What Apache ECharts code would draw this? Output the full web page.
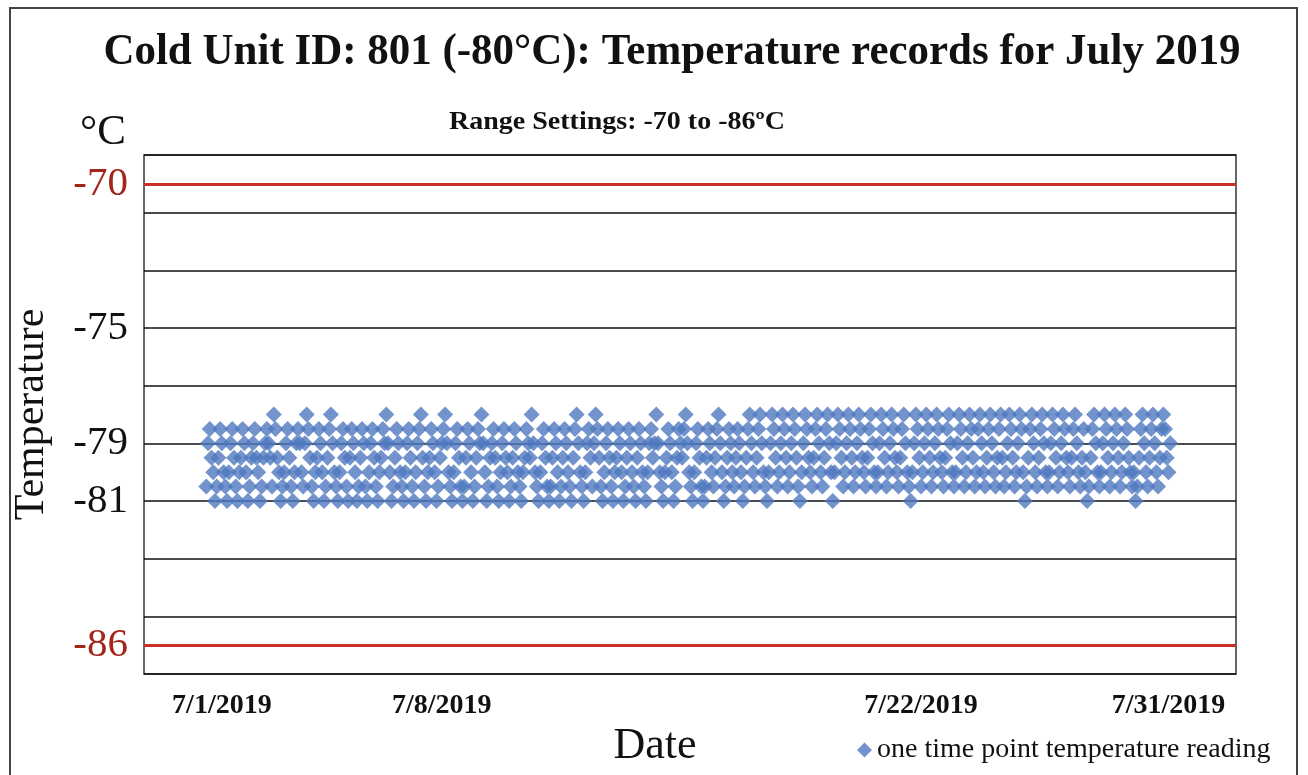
<!DOCTYPE html>
<html>
<head>
<meta charset="utf-8">
<title>Cold Unit 801 temperature records</title>
<script src="https://cdn.jsdelivr.net/npm/echarts@6/dist/echarts.min.js"></script>
<style>
  html, body { margin: 0; padding: 0; background: #fff; }
  #chart { width: 1308px; height: 775px; }
</style>
</head>
<body>
<div id="chart"></div>
<script>
// readings in order of recording, degrees C (0.5 steps)
var readingsA = [
  -80.5, -79, -78.5, -79.5, -80, -81, -80.5, -79.5, -78.5, -79, -80, -80.5, -81, -80,
  -79, -78.5, -79.5, -80.5, -81, -80, -79.5, -78.5, -79, -80, -81, -80.5, -79.5, -79,
  -78.5, -79.5, -80, -81, -80.5, -79.5, -79, -78.5, -79, -79.5, -80.5, -78, -78.5, -79.5,
  -80, -81, -80.5, -80, -79, -78.5, -79.5, -80.5, -81, -80, -79, -78.5, -79, -80,
  -80.5, -79, -78, -78.5, -79.5, -80.5, -81, -80, -79.5, -78.5, -79, -80, -81, -80.5,
  -79.5, -78.5, -78, -79, -80, -80.5, -81, -80, -79, -78.5, -79.5, -80.5, -81, -79.5,
  -78.5, -79, -80, -81, -80.5, -79.5, -78.5, -79, -80.5, -81, -80, -79, -78.5, -79.5,
  -80.5, -81, -80, -79.5, -78.5, -79, -78, -79, -80, -81, -80.5, -79.5, -78.5, -79,
  -80, -80.5, -81, -80, -79, -78.5, -79.5, -80.5, -81, -80, -79, -78.5, -78, -79.5
];
var readingsB = [
  -80.5, -81, -80, -79.5, -78.5, -79, -80, -81, -80.5, -79.5, -79, -78.5, -78, -79,
  -80, -80.5, -81, -80, -79, -78.5, -79.5, -80.5, -81, -80.5, -79.5, -78.5, -79, -80,
  -81, -80.5, -79.5, -78.5, -79, -78, -79, -80, -81, -80.5, -79.5, -79, -78.5, -79.5,
  -80.5, -81, -80, -79, -78.5, -79.5, -80, -81, -80.5, -79.5, -78.5, -79, -80, -80.5,
  -81, -80, -79.5, -78.5, -79, -79.5, -78, -79, -80, -80.5, -81, -80, -79, -78.5,
  -79.5, -80.5, -81, -80.5, -79.5, -78.5, -79, -80, -81, -80.5, -79.5, -78.5, -79, -80,
  -80.5, -81, -79.5, -78.5, -78, -79, -80, -80.5, -81, -80, -79, -78.5, -79.5, -80.5,
  -79, -78, -78.5, -79.5, -80.5, -81, -80, -79, -78.5, -79.5, -80.5, -81, -80, -79.5,
  -78.5, -79, -80, -81, -80.5, -79.5, -78.5, -79, -80, -80.5, -81, -79.5, -78.5, -79
];
var readingsC = [
  -80, -80.5, -81, -80, -79, -78.5, -79.5, -79, -78, -79, -80, -80.5, -81, -80,
  -79.5, -78.5, -79, -80, -81, -80.5, -79.5, -78.5, -79, -79.5, -78.5, -78, -79, -80,
  -80.5, -81, -80, -79, -78.5, -79.5, -80.5, -81, -80.5, -79.5, -78.5, -79, -80, -80.5,
  -79.5, -78.5, -78, -79, -80, -81, -80.5, -79.5, -78.5, -79, -80, -80.5, -79.5, -78.5,
  -79, -80, -81, -80.5, -79.5, -78.5, -78, -79, -80, -80.5, -79.5, -78.5, -78, -79,
  -80, -80.5, -81, -80, -79, -78, -78.5, -79.5, -80.5, -80, -79, -78, -78.5, -79.5,
  -80.5, -80, -79, -78, -78.5, -79.5, -80.5, -81, -80, -79, -78, -78.5, -79.5, -80,
  -80.5, -79.5, -78.5, -78, -79, -80, -80.5, -79.5, -78.5, -78, -79, -80, -81, -80,
  -79, -78, -78.5, -79.5, -80.5, -80, -79, -78, -78.5, -79.5, -80.5, -80, -79, -78
];
var readingsD = [
  -78.5, -79.5, -80, -80.5, -79.5, -78.5, -78, -79, -80, -80.5, -80, -79,
  -78, -78.5, -79.5, -80.5, -80, -79, -78, -78.5, -79.5, -80, -80.5, -79.5,
  -78.5, -78, -79, -80, -80.5, -81, -80, -79, -78, -78.5, -79.5, -80.5,
  -80, -79, -78, -78.5, -79.5, -80.5, -80, -79, -78, -78.5, -79.5, -80,
  -80.5, -79.5, -78.5, -78, -79, -80, -80.5, -80, -79, -78, -78.5, -79.5,
  -80.5, -80, -79, -78, -78.5, -79.5, -80.5, -80, -78.5, -78, -79, -80,
  -80.5, -79.5, -78.5, -78, -79, -80, -80.5, -79.5, -78.5, -78, -79.5, -80.5,
  -80, -79, -78, -78.5, -79.5, -80.5, -80, -79, -78, -78.5, -80, -81,
  -80.5, -79.5, -78.5, -78, -79, -80, -80.5, -79.5, -78.5, -78, -79, -80
];
var readingsE = [
  -80.5, -80, -79, -78, -78.5, -79.5, -80.5, -80, -79, -78, -78.5, -79.5,
  -80, -80.5, -79.5, -78.5, -78, -79, -80, -80.5, -79.5, -78.5, -80, -81,
  -80.5, -79.5, -78.5, -78, -79, -80, -80.5, -80, -79, -78, -78.5, -79.5,
  -80.5, -80, -79, -78, -78.5, -79.5, -80.5, -80, -79, -78, -78.5, -79.5,
  -80, -80.5, -80, -81, -80.5, -79.5, -78.5, -78, -79, -80, -80.5, -79.5,
  -78.5, -78, -79, -80, -80.5, -79.5, -78.5, -78, -78.5, -79.5, -80, -79
];

var dateTickIndex = [9, 136, 413, 556];
var dateTickLabels = ['7/1/2019', '7/8/2019', '7/22/2019', '7/31/2019'];
var tempTickValues = [-70, -75, -79, -81, -86];
var rangeLimits = [-70, -86];

var readings = readingsA.concat(readingsB, readingsC, readingsD, readingsE);
var points = readings.map(function (v, i) { return [i, v]; });

var serif = '"Liberation Serif", "DejaVu Serif", serif';
var chart = echarts.init(document.getElementById('chart'));

var option = {
  backgroundColor: '#fff',
  animation: false,
  graphic: [{
    type: 'rect', silent: true,
    shape: { x: 10, y: 8, width: 1287, height: 790 },
    style: { fill: null, stroke: '#444', lineWidth: 2 }
  }, {
    // main title
    type: 'text', x: 672, y: 52, scaleX: 0.955,
    style: {
      text: 'Cold Unit ID: 801 (-80\u00b0C): Temperature records for July 2019',
      font: 'bold 45px ' + serif, fill: '#111',
      align: 'center', verticalAlign: 'middle'
    }
  }, {
    type: 'text', x: 617, y: 123, scaleX: 1.12,
    style: {
      text: 'Range Settings: -70 to -86\u00baC',
      font: 'bold 25px ' + serif, fill: '#111',
      align: 'center', verticalAlign: 'middle'
    }
  }, {
    type: 'text', x: 80, y: 133,
    style: {
      text: '\u00b0C', font: '43px ' + serif, fill: '#111',
      align: 'left', verticalAlign: 'middle'
    }
  }],
  legend: {
    left: 852, top: 731,
    itemWidth: 15, itemHeight: 15, itemGap: 4,
    icon: 'diamond',
    textStyle: { fontFamily: serif, fontSize: 28, color: '#111' },
    data: ['one time point temperature reading']
  },
  grid: {
    left: 144, right: 72, top: 155, bottom: 101,
    show: true, borderColor: '#333', borderWidth: 1.5, backgroundColor: '#fff'
  },
  xAxis: {
    type: 'value', min: -36, max: 595,
    name: 'Date', nameLocation: 'middle', nameGap: 38,
    nameTextStyle: { fontFamily: serif, fontSize: 44, color: '#111', padding: [0, 70, 0, 0] },
    axisLine: { show: false },
    axisTick: { show: false },
    splitLine: { show: false },
    axisLabel: {
      customValues: dateTickIndex,
      margin: 18,
      fontFamily: serif, fontSize: 28, fontWeight: 'bold', color: '#111',
      formatter: function (v) {
        return dateTickLabels[dateTickIndex.indexOf(v)];
      }
    }
  },
  yAxis: {
    type: 'value', min: -87, max: -69, interval: 2,
    name: 'Temperature', nameLocation: 'middle', nameGap: 91, nameRotate: 90,
    nameTextStyle: { fontFamily: serif, fontSize: 42, color: '#111' },
    axisLine: { show: false },
    axisTick: { show: false },
    splitLine: { show: true, lineStyle: { color: '#111', width: 1.5 } },
    axisLabel: {
      customValues: tempTickValues,
      margin: 16,
      formatter: function (v) {
        return rangeLimits.indexOf(v) >= 0 ? '{lim|' + v + '}' : '{std|' + v + '}';
      },
      rich: {
        std: { fontFamily: serif, fontSize: 41, color: '#111' },
        lim: { fontFamily: serif, fontSize: 41, color: '#a3261c' }
      }
    }
  },
  series: [{
    name: 'one time point temperature reading',
    type: 'scatter',
    symbol: 'diamond',
    symbolSize: 16,
    itemStyle: { color: '#4f78bf' },
    data: points,
    markLine: {
      silent: true,
      symbol: 'none',
      label: { show: false },
      lineStyle: { color: '#c9302a', width: 3, type: 'solid' },
      data: rangeLimits.map(function (v) { return { yAxis: v }; })
    }
  }]
};

chart.setOption(option);
</script>
</body>
</html>
